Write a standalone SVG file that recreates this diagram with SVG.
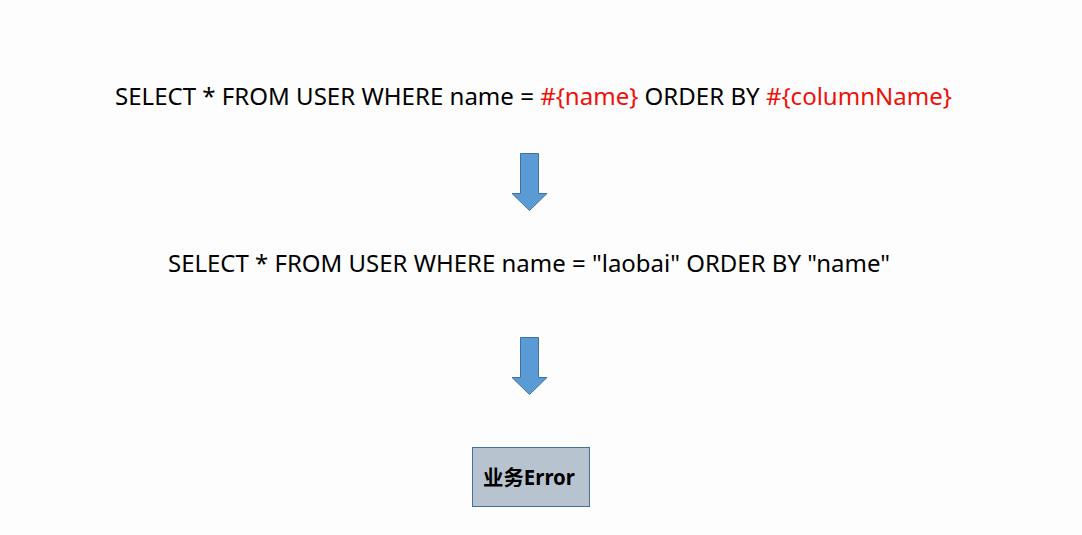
<svg xmlns="http://www.w3.org/2000/svg" width="1082" height="535" viewBox="0 0 1082 535">
<style>
.sql{font-family:"Noto Sans","DejaVu Sans",sans-serif;font-size:23px;fill:#000}
.red{fill:#f0100a}
.arrow{fill:#5b9bd5;stroke:#41719c;stroke-width:1}
.box{fill:#b8c3d0;stroke:#41719c;stroke-width:1}
.lbl{font-family:"Noto Sans","Noto Sans CJK SC",sans-serif;font-size:21px;font-weight:bold;fill:#000}
</style>
<rect width="1082" height="535" fill="#fdfdfd"/>
<g id="sql-template">
<text class="sql" x="115" y="105" textLength="837" lengthAdjust="spacingAndGlyphs">SELECT * FROM USER WHERE name = <tspan class="red">#{name}</tspan> ORDER BY <tspan class="red">#{columnName}</tspan></text>
</g>
<g id="sql-resolved">
<text class="sql" x="168" y="272" textLength="722" lengthAdjust="spacingAndGlyphs">SELECT * FROM USER WHERE name = "laobai" ORDER BY "name"</text>
</g>
<g id="error">
<rect class="box" x="472.500" y="447.500" width="117" height="59"/>
<text class="lbl" x="529" y="485" text-anchor="middle" textLength="92" lengthAdjust="spacingAndGlyphs">业务Error</text>
</g>
<g id="connectors">
<path class="arrow" d="M520.500,153.500 H538.500 V193.500 H547 L529.500,210.500 L512,193.500 H520.500 Z"/>
<path class="arrow" d="M520.500,337.500 H538.500 V377.500 H547 L529.500,394.500 L512,377.500 H520.500 Z"/>
</g>
</svg>
